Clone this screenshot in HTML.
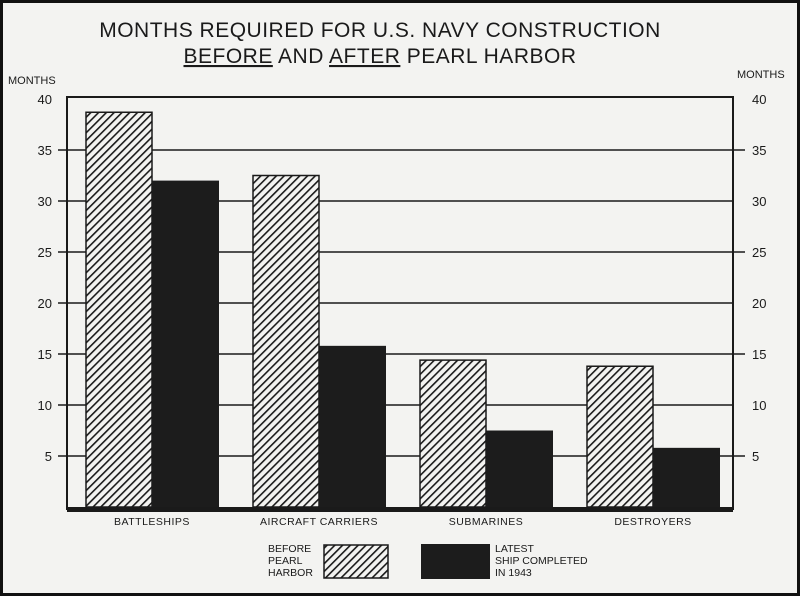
<!DOCTYPE html>
<html><head><meta charset="utf-8"><style>
html,body{margin:0;padding:0;background:#111;}
#wrap{width:800px;height:596px;position:relative;overflow:hidden;}
svg text{font-family:"Liberation Sans",sans-serif;fill:#1a1a1a;}
</style></head><body>
<div id="wrap">
<svg id="chart" width="800" height="596" viewBox="0 0 800 596">
<defs>
<pattern id="hatch" patternUnits="userSpaceOnUse" width="5.5" height="5.5" patternTransform="rotate(45)">
<rect width="5.5" height="5.5" fill="#f3f3f1"/>
<rect x="0" y="0" width="1.6" height="5.5" fill="#1a1a1a"/>
</pattern>
</defs>
<rect x="3" y="3" width="794" height="590" fill="#f3f3f1"/>
<text x="380" y="37" text-anchor="middle" font-size="21" letter-spacing="0.5">MONTHS REQUIRED FOR U.S. NAVY CONSTRUCTION</text>
<text x="380" y="63" text-anchor="middle" font-size="21" letter-spacing="0.5"><tspan text-decoration="underline">BEFORE</tspan> AND <tspan text-decoration="underline">AFTER</tspan> PEARL HARBOR</text>
<text x="8" y="84" font-size="11">MONTHS</text>
<text x="737" y="78" font-size="11">MONTHS</text>
<g id="grid"></g>
<g id="bars"></g>
<g id="labels"></g>
<rect x="67" y="97" width="666" height="412" fill="none" stroke="#1a1a1a" stroke-width="2"/>
<rect x="67" y="507" width="666" height="5" fill="#1a1a1a"/>
<g>
<text font-size="10.5"><tspan x="268" y="552">BEFORE</tspan><tspan x="268" y="564">PEARL</tspan><tspan x="268" y="576">HARBOR</tspan></text>
<rect x="324" y="545" width="64" height="33" fill="url(#hatch)" stroke="#1a1a1a" stroke-width="1.5"/>
<rect x="421" y="544" width="69" height="35" fill="#1c1c1c"/>
<text font-size="10.5"><tspan x="495" y="552">LATEST</tspan><tspan x="495" y="564">SHIP COMPLETED</tspan><tspan x="495" y="576">IN 1943</tspan></text>
</g>
</svg>
</div>
<script>
const categories = ["BATTLESHIPS","AIRCRAFT CARRIERS","SUBMARINES","DESTROYERS"];
const beforeValues = [38.7, 32.5, 14.4, 13.8];
const afterValues = [32.0, 15.8, 7.5, 5.8];
const tickValues = [5,10,15,20,25,30,35,40];
const tickLabels = ["5","10","15","20","25","30","35","40"];

const NS="http://www.w3.org/2000/svg";
const y0=507, pxPer=10.2;
function yScale(v){return y0 - v*pxPer;}
const groupStart=86, groupStep=167, barW=66;
function xScale(i){return groupStart + i*groupStep;}
function mk(tag,attrs,parent){const e=document.createElementNS(NS,tag);for(const k in attrs)e.setAttribute(k,attrs[k]);parent.appendChild(e);return e;}

const grid=document.getElementById('grid');
tickValues.forEach((t,i)=>{
  const y=yScale(t);
  if(t<40){
    const l=mk('line',{x1:58,x2:t%10===5?745:733,y1:y,y2:y,stroke:'#1a1a1a','stroke-width':1.5},grid);
    
    
  }
  const a=mk('text',{x:52,y:y+5,'text-anchor':'end','font-size':13},grid);
  a.textContent=tickLabels[i];
  
  
  const b=mk('text',{x:752,y:y+5,'font-size':13},grid);
  b.textContent=tickLabels[i];
  
  
});

const bars=document.getElementById('bars');
const labels=document.getElementById('labels');
categories.forEach((c,i)=>{
  const x=xScale(i);
  const hb=mk('rect',{x:x,y:yScale(beforeValues[i]),width:barW,height:y0-yScale(beforeValues[i]),fill:'url(#hatch)',stroke:'#1a1a1a','stroke-width':1.5},bars);
  
  
  const db=mk('rect',{x:x+barW,y:yScale(afterValues[i]),width:barW+1,height:y0-yScale(afterValues[i]),fill:'#1c1c1c'},bars);
  
  
  const t=mk('text',{x:x+barW,y:525,'text-anchor':'middle','font-size':10.5,'letter-spacing':'0.5'},labels);
  t.textContent=c;
  
  
});
</script>
</body></html>
